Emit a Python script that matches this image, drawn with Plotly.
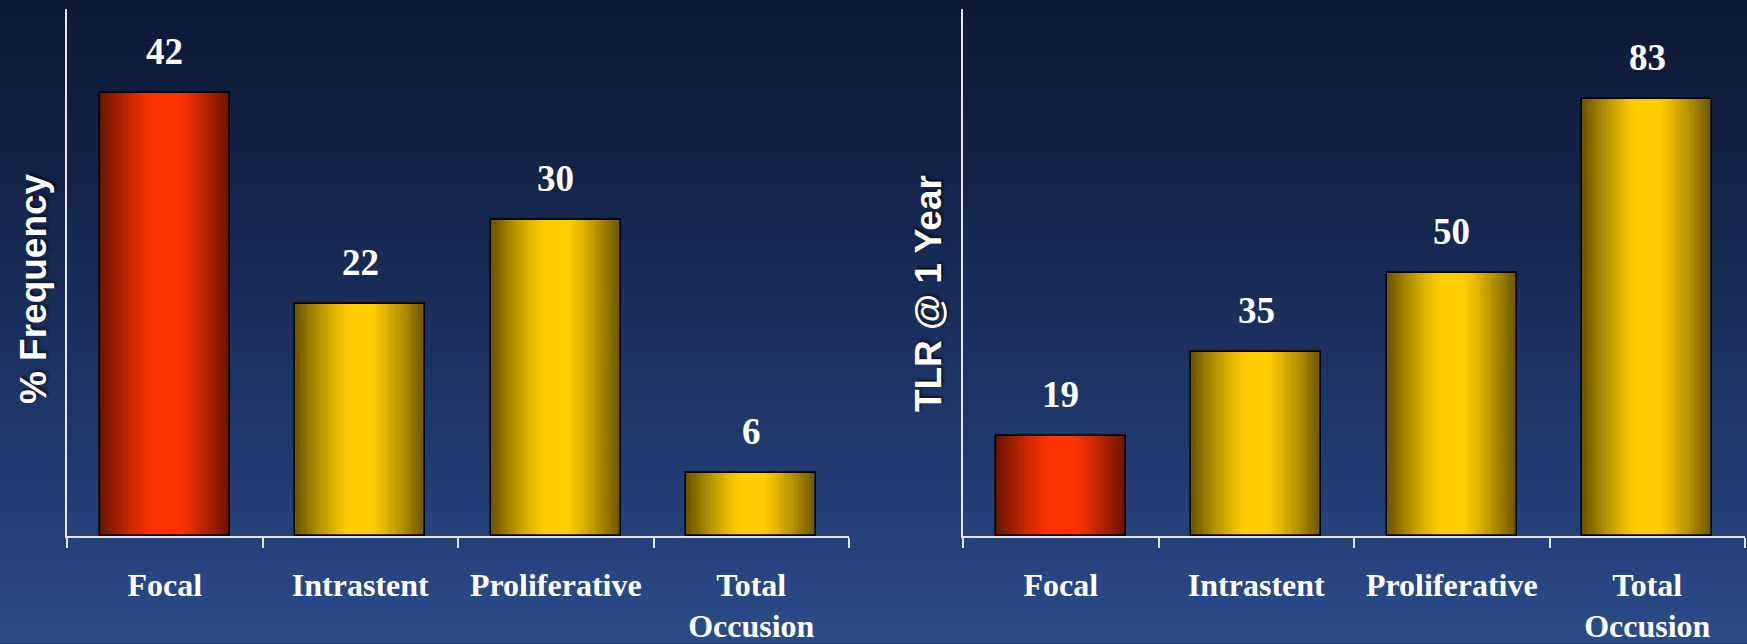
import math
import plotly.graph_objects as go

# ---------------- data ----------------
categories = ["Focal", "Intrastent", "Proliferative", "Total<br>Occusion"]
frequency = [42, 22, 30, 6]          # % Frequency
tlr_1yr = [19, 35, 50, 83]           # TLR @ 1 Year
bar_kind = ["red", "gold", "gold", "gold"]
left_title = "% Frequency"
right_title = "TLR @ 1 Year"

# ---------------- styles ----------------
PALETTE = {
    "red": ((0x6a, 0x14, 0x00), (0xff, 0x33, 0x00)),
    "gold": ((0x6c, 0x58, 0x00), (0xff, 0xcc, 0x00)),
}
W, H = 1747, 644
BAR_W = 0.663
N_LAYERS = 28
AXIS_COL = "#e6e6ea"


def mix(a, b, t):
    return "rgb(%d,%d,%d)" % tuple(round(a[i] + (b[i] - a[i]) * t) for i in range(3))


fig = go.Figure()

panels = [
    (frequency, "x", "y"),
    (tlr_1yr, "x2", "y2"),
]

for vals, xa, ya in panels:
    # overlaid bars of shrinking width give a horizontal cylinder-like gradient
    for k in range(N_LAYERS):
        frac = k / N_LAYERS
        w = BAR_W * (1 - frac)
        t = min(1.0, frac / 0.8)
        t = 1 - (1 - t) ** 1.2
        cols = [mix(PALETTE[c][0], PALETTE[c][1], t) for c in bar_kind]
        fig.add_trace(go.Bar(
            x=categories, y=vals, width=w, xaxis=xa, yaxis=ya,
            marker=dict(color=cols, line=dict(width=0)),
            hoverinfo="skip", showlegend=False,
        ))
    # outline + value labels
    fig.add_trace(go.Bar(
        x=categories, y=vals, width=BAR_W, xaxis=xa, yaxis=ya,
        marker=dict(color="rgba(0,0,0,0)", line=dict(color="#000000", width=1.6)),
        showlegend=False,
    ))
    for c, v in zip(categories, vals):
        fig.add_annotation(
            x=c, y=v, xref=xa, yref=ya, text=str(v), showarrow=False,
            xanchor="center", yanchor="bottom", yshift=19,
            font=dict(family="Liberation Serif", size=37, color="white", weight="bold"),
        )

# background vertical gradient
bands = 64
top = (0x0d, 0x18, 0x36)
bot = (0x2b, 0x4b, 0x8b)
for i in range(bands):
    t0 = i / bands
    t = ((i + 0.5) / bands) ** 1.15
    fig.add_shape(
        type="rect", xref="paper", yref="paper", x0=0, x1=1,
        y0=1 - (i + 1) / bands - 0.002, y1=1 - t0,
        fillcolor=mix(top, bot, t), line=dict(width=0), layer="below",
    )

tickfont = dict(family="Liberation Serif", size=32, color="white", weight="bold")
xcommon = dict(
    type="category", showline=True, linecolor=AXIS_COL, linewidth=2,
    ticks="outside", tickson="boundaries", ticklen=10, tickwidth=2, tickcolor=AXIS_COL,
    showgrid=False, tickfont=tickfont, ticklabelstandoff=19, fixedrange=True,
)
ycommon = dict(
    showline=True, linecolor=AXIS_COL, linewidth=2, showticklabels=False,
    ticks="", showgrid=False, zeroline=False, fixedrange=True,
)
ydom = [1 - 538 / H, 1 - 9 / H]

fig.update_layout(
    width=W, height=H, margin=dict(l=0, r=0, t=0, b=0),
    paper_bgcolor="#1b3060", plot_bgcolor="rgba(0,0,0,0)",
    barmode="overlay", bargap=0, showlegend=False,
    xaxis=dict(domain=[67 / W, 849 / W], anchor="y", **xcommon),
    yaxis=dict(domain=ydom, range=[0, 50], anchor="x", **ycommon),
    xaxis2=dict(domain=[963 / W, 1745 / W], anchor="y2", **xcommon),
    yaxis2=dict(domain=ydom, range=[0, 100], anchor="x2", **ycommon),
)

title_font = dict(family="Liberation Sans", size=37, color="white", weight="bold",
                  shadow="2px 2px 3px rgba(0,0,0,0.6)")
fig.add_annotation(x=33 / W, y=1 - 290 / H, xref="paper", yref="paper",
                   xanchor="center", yanchor="middle",
                   text=left_title, textangle=-90, showarrow=False, font=title_font)
fig.add_annotation(x=928 / W, y=1 - 295 / H, xref="paper", yref="paper",
                   xanchor="center", yanchor="middle",
                   text=right_title, textangle=-90, showarrow=False, font=title_font)

fig.write_html("out.html")
